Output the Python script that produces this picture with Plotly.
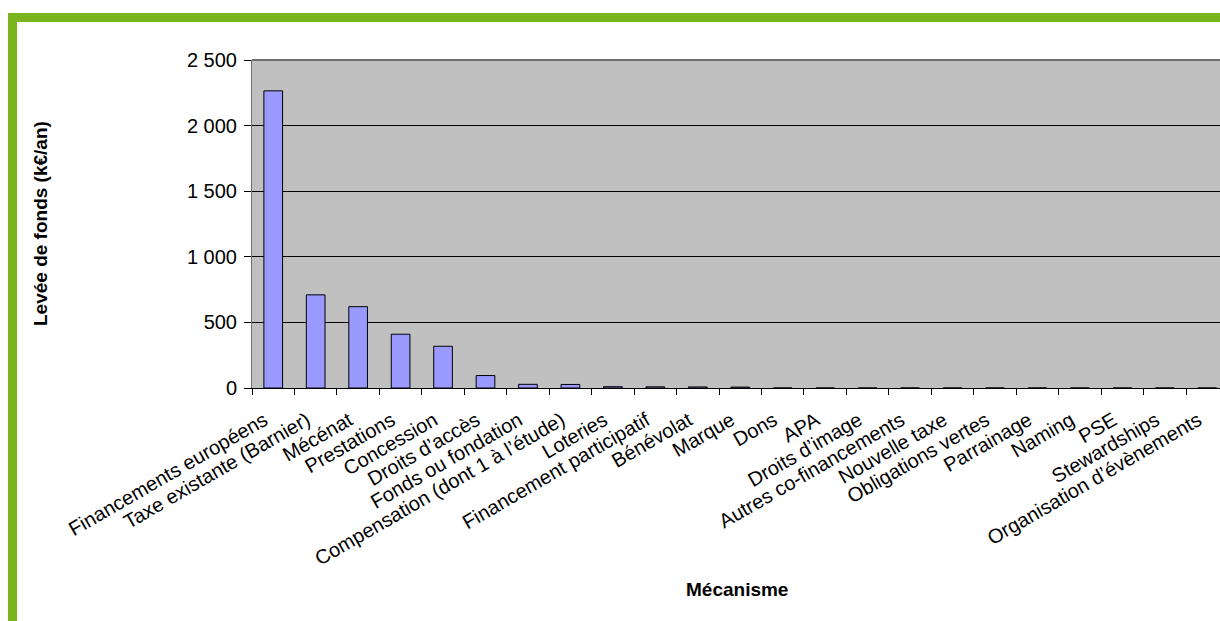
import plotly.graph_objects as go

categories = [
    "Financements européens", "Taxe existante (Barnier)", "Mécénat", "Prestations",
    "Concession", "Droits d’accès", "Fonds ou fondation", "Compensation (dont 1 à l’étude)",
    "Loteries", "Financement participatif", "Bénévolat", "Marque", "Dons", "APA",
    "Droits d’image", "Autres co-financements", "Nouvelle taxe", "Obligations vertes",
    "Parrainage", "Naming", "PSE", "Stewardships", "Organisation d’évènements",
]
values = [2265, 710, 620, 410, 318, 95, 28, 27, 10, 9, 8, 7,
          0, 0, 0, 0, 0, 0, 0, 0, 0, 0, 0]
y_ticks = [0, 500, 1000, 1500, 2000, 2500]

W, H = 1220, 621
L, R, T, B = 252, 0, 60, 233
PW, PH = W - L - R, H - T - B


def xp(px):
    return (px - L) / PW


def yp(py):
    return (H - B - py) / PH


FONT = "Liberation Sans, Arial, sans-serif"
GREEN = "#7ab51f"

fig = go.Figure(
    go.Bar(
        x=categories,
        y=values,
        width=0.44,
        marker=dict(color="#9999ff", line=dict(color="#000000", width=1)),
    )
)

shapes = [
    # plot area top border
    dict(type="line", xref="paper", yref="paper", x0=0, x1=1, y0=1, y1=1,
         line=dict(color="#6e6e6e", width=2)),
    # green frame (top and left)
    dict(type="rect", xref="paper", yref="paper", x0=xp(8), x1=xp(W + 5),
         y0=yp(22), y1=yp(13), fillcolor=GREEN, line=dict(width=0), layer="above"),
    dict(type="rect", xref="paper", yref="paper", x0=xp(8), x1=xp(17),
         y0=yp(H + 5), y1=yp(13), fillcolor=GREEN, line=dict(width=0), layer="above"),
]

annotations = [
    dict(text="<b>Levée de fonds (k€/an)</b>", xref="paper", yref="paper",
         x=xp(40), y=yp(224), textangle=-90, showarrow=False,
         font=dict(family=FONT, size=19, color="#000000"),
         xanchor="center", yanchor="middle"),
    dict(text="<b>Mécanisme</b>", xref="paper", yref="paper",
         x=xp(737), y=yp(589), showarrow=False,
         font=dict(family=FONT, size=19, color="#000000"),
         xanchor="center", yanchor="middle"),
]

fig.update_layout(
    width=W, height=H,
    margin=dict(l=L, r=R, t=T, b=B, pad=0),
    paper_bgcolor="#ffffff",
    plot_bgcolor="#c0c0c0",
    font=dict(family=FONT, size=19, color="#000000"),
    separators=", ",
    showlegend=False,
    shapes=shapes,
    annotations=annotations,
    bargap=0.56,
)

fig.update_xaxes(
    type="category",
    range=[-0.5, 22.3],
    tickangle=-30,
    tickson="boundaries",
    ticks="outside", ticklen=6, tickcolor="#000000", tickwidth=1,
    showline=True, linecolor="#000000", linewidth=1,
    showgrid=False,
    tickfont=dict(family=FONT, size=20, color="#000000"),
    ticklabelstandoff=12,
    ticklabelshift=-9,
    automargin=False,
)
fig.update_yaxes(
    range=[0, 2500],
    tickvals=y_ticks,
    tickformat=",d",
    ticks="outside", ticklen=7, tickcolor="#000000", tickwidth=1,
    showline=True, linecolor="#6e6e6e", linewidth=1,
    showgrid=True, gridcolor="#000000", gridwidth=1,
    zeroline=False,
    tickfont=dict(family=FONT, size=20, color="#000000"),
    ticklabelstandoff=3,
    automargin=False,
)

fig.write_html("out.html")
